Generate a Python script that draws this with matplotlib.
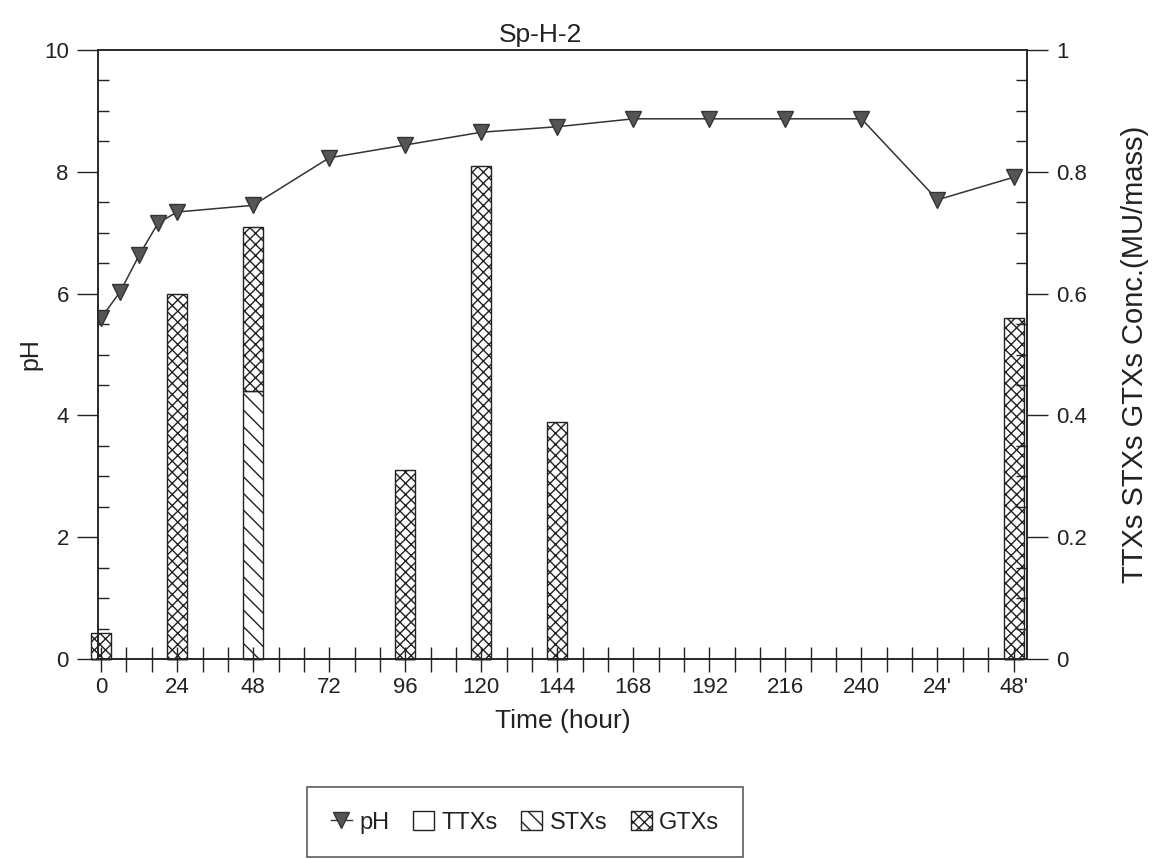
import matplotlib.pyplot as plt
from matplotlib.lines import Line2D
from matplotlib.patches import Patch
from matplotlib.ticker import MultipleLocator

plt.rcParams['font.family'] = ['Liberation Sans', 'DejaVu Sans']
plt.rcParams['hatch.linewidth'] = 1.0

# pH readings (hours along the axis; 264/288 are the 24'/48' points)
ph_hours = [0, 6, 12, 18, 24, 48, 72, 96, 120, 144, 168, 192, 216, 240, 264, 288]
ph_values = [5.60, 6.03, 6.63, 7.16, 7.34, 7.45, 8.23, 8.44, 8.65, 8.74,
             8.87, 8.87, 8.87, 8.87, 7.54, 7.91]

# toxin concentrations (MU/mass)
bar_hours = [0, 24, 48, 96, 120, 144, 288]
ttx = [0, 0, 0, 0, 0, 0, 0]
stx = [0, 0, 0.44, 0, 0, 0, 0]
gtx = [0.043, 0.60, 0.27, 0.31, 0.81, 0.39, 0.56]

tick_hours = [0, 24, 48, 72, 96, 120, 144, 168, 192, 216, 240, 264, 288]
tick_labels = ['0', '24', '48', '72', '96', '120', '144', '168', '192',
               '216', '240', "24'", "48'"]
conc_ticks = [0, 0.2, 0.4, 0.6, 0.8, 1.0]
conc_labels = ['0', '0.2', '0.4', '0.6', '0.8', '1']

ink = '#222222'

fig = plt.figure(figsize=(11.58, 8.59), dpi=100)
ax = fig.add_axes([0.0846, 0.2328, 0.8024, 0.709])
ax2 = ax.twinx()

# bars on the right-hand scale
w = 6.3
stx_bottom = list(ttx)
gtx_bottom = [a + b for a, b in zip(ttx, stx)]
ax2.bar(bar_hours, ttx, width=w, color='white', edgecolor=ink, lw=1.0, clip_on=False)
ax2.bar(bar_hours, stx, width=w, bottom=stx_bottom, color='white', edgecolor=ink,
        hatch='\\\\', lw=1.0, clip_on=False)
ax2.bar(bar_hours, gtx, width=w, bottom=gtx_bottom, color='white', edgecolor=ink,
        hatch='xxx', lw=1.0, clip_on=False)
ax2.set_ylim(0, 1)

# pH line on top
ax.set_zorder(ax2.get_zorder() + 1)
ax.patch.set_visible(False)
ax.plot(ph_hours, ph_values, color='#333333', lw=1.1, marker='v', ms=12,
        mfc='#555555', mec='#333333', mew=1.0)
ax.set_ylim(0, 10)
ax.set_xlim(-1, 292.3)

ax.set_xticks(tick_hours)
ax.set_xticklabels(tick_labels)
ax.xaxis.set_minor_locator(MultipleLocator(8))
ax.yaxis.set_major_locator(MultipleLocator(2))
ax.yaxis.set_minor_locator(MultipleLocator(0.5))
ax2.set_yticks(conc_ticks)
ax2.set_yticklabels(conc_labels)
ax2.yaxis.set_minor_locator(MultipleLocator(0.05))

ax.tick_params(axis='x', which='both', direction='inout', length=18, width=1.0,
               colors=ink, labelsize=16, pad=4)
ax.tick_params(axis='y', which='major', direction='out', length=15, width=1.0,
               colors=ink, labelsize=16, pad=6)
ax.tick_params(axis='y', which='minor', direction='in', length=8, width=1.0, colors=ink)
ax2.tick_params(axis='y', which='major', direction='out', length=15, width=1.0,
                colors=ink, labelsize=16, pad=6)
ax2.tick_params(axis='y', which='minor', direction='in', length=8, width=1.0, colors=ink)

for a in (ax, ax2):
    for s in a.spines.values():
        s.set_color(ink)
        s.set_linewidth(1.1)

ax.set_ylabel('pH', fontsize=18, color=ink, labelpad=1)
ax2.set_ylabel('TTXs STXs GTXs Conc.(MU/mass)', fontsize=21, color=ink, labelpad=24)
ax.set_xlabel('Time (hour)', fontsize=19, color=ink, labelpad=8)
ax.set_title('Sp-H-2', fontsize=19, color=ink, x=0.476, pad=6)

handles = [
    Line2D([], [], color='#333333', lw=1.0, marker='v', ms=11, mfc='#555555', mec='#333333'),
    Patch(facecolor='white', edgecolor=ink),
    Patch(facecolor='white', edgecolor=ink, hatch='\\\\'),
    Patch(facecolor='white', edgecolor=ink, hatch='xxx'),
]
leg = fig.legend(handles, ['pH', 'TTXs', 'STXs', 'GTXs'], loc='upper center',
                 bbox_to_anchor=(525 / 1158, 1 - 787 / 859), ncol=4, fontsize=17,
                 frameon=True, fancybox=False, edgecolor=ink, borderpad=1.0,
                 handlelength=0.9, handleheight=0.9, handletextpad=0.3,
                 columnspacing=1.0, borderaxespad=0)
leg.get_frame().set_linewidth(1.1)
for t in leg.get_texts():
    t.set_color(ink)

fig.savefig('out.png', dpi=100, facecolor='white')
